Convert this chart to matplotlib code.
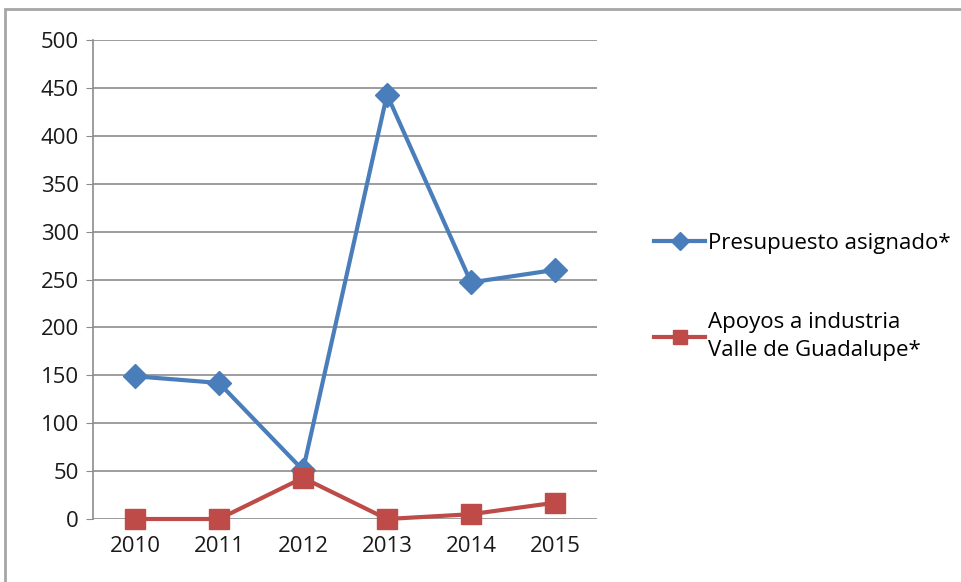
import matplotlib
matplotlib.use('Agg')
import matplotlib.pyplot as plt
from matplotlib.patches import Rectangle

years = ["2010", "2011", "2012", "2013", "2014", "2015"]
presupuesto = [149, 142, 51, 443, 247, 260]
apoyos = [0, 0, 43, 0, 5, 17]
labels = ["Presupuesto asignado*", "Apoyos a industria\nValle de Guadalupe*"]

plt.rcParams['font.family'] = ['Open Sans', 'DejaVu Sans']

fig = plt.figure(figsize=(9.61, 5.82), dpi=100)
ax = fig.add_axes([93 / 961, 1 - 519 / 582, 504 / 961, 479 / 582])

x = list(range(len(years)))
l1, = ax.plot(x, presupuesto, color="#4A7EBB", lw=3, marker="D", ms=12,
              label=labels[0], zorder=3, clip_on=False)
l2, = ax.plot(x, apoyos, color="#BE4B48", lw=3, marker="s", ms=14,
              label=labels[1], zorder=3, clip_on=False)

ax.set_xlim(-0.5, len(years) - 0.5)
ax.set_ylim(0, 500)
ax.set_yticks(range(0, 501, 50))
ax.set_xticks(x)
ax.set_xticklabels(years)
ax.grid(axis="y", color="#8C8C8C", lw=1.2)
ax.set_axisbelow(True)
for s in ["top", "right", "bottom"]:
    ax.spines[s].set_visible(False)
ax.spines["left"].set_color("#8C8C8C")
ax.spines["left"].set_linewidth(1.2)
ax.tick_params(axis="y", length=5, color="#8C8C8C", labelsize=16, pad=5,
               labelcolor="#1A1A1A")
ax.tick_params(axis="x", length=0, labelsize=16, pad=12, labelcolor="#1A1A1A")

leg = fig.legend(handles=[l1, l2], loc="center left",
                 bbox_to_anchor=(634 / 961, 1 - 297 / 582), frameon=False,
                 fontsize=16, handlelength=2.3, handletextpad=0.15,
                 labelspacing=2.6, markerscale=0.75)
for t in leg.get_texts():
    t.set_linespacing(1.45)

frame = Rectangle((5 / 961, -0.1), 1.2, 1.1 - 9 / 582, transform=fig.transFigure,
                  fill=False, edgecolor="#A6A6A6", lw=2, clip_on=False)
fig.patches.append(frame)

fig.savefig("out.png", dpi=100)
